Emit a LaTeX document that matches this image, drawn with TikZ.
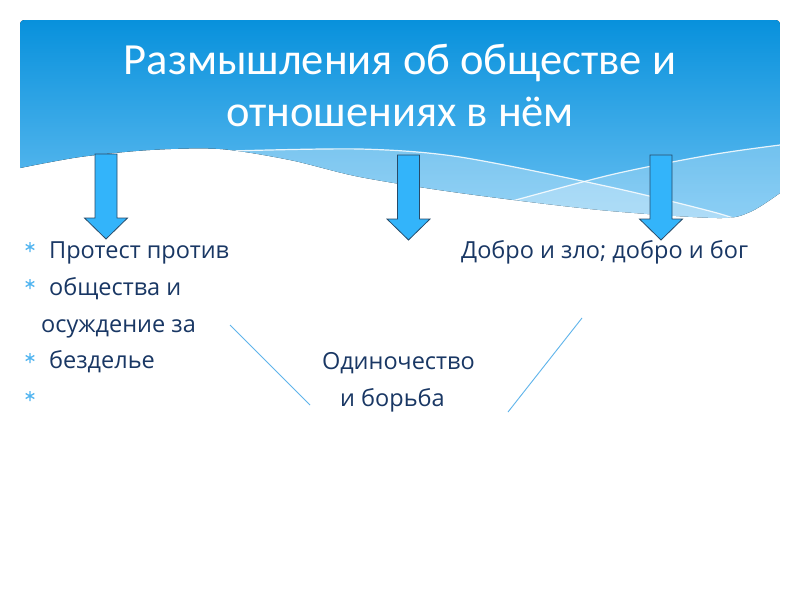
\documentclass[tikz,border=0pt]{standalone}
\usepackage{fontspec}
\setmainfont{Carlito}
\newfontfamily\bodyfont{Open Sans}
\definecolor{hdrtop}{RGB}{8,145,220}
\definecolor{hdrbot}{RGB}{105,192,242}
\definecolor{arrfill}{RGB}{51,180,250}
\definecolor{arrline}{RGB}{40,75,105}
\definecolor{bodytxt}{RGB}{25,55,100}
\definecolor{linblue}{RGB}{95,180,235}
\definecolor{bulblue}{RGB}{80,180,240}
\tikzset{
  titletext/.style={anchor=base, text=white, inner sep=0pt, font=\fontsize{44.5}{50}\selectfont},
  bodytext/.style={anchor=base west, text=bodytxt, inner sep=0pt, font=\bodyfont\fontsize{23.5}{27}\selectfont},
  arrowstyle/.style={fill=arrfill, draw=arrline, line width=0.8pt, line join=miter},
  downarr/.pic={\path[arrowstyle] (-11,0) -- (11,0) -- (11,64) -- (21.5,64) -- (0,85) -- (-21.5,64) -- (-11,64) -- cycle;},
  bulletstar/.pic={\draw[bulblue, line width=1.3pt] (0,-5) -- (0,5) (-4.3,-2.5) -- (4.3,2.5) (-4.3,2.5) -- (4.3,-2.5);},
  sepline/.style={draw=linblue, line width=0.9pt},
  whiteline/.style={draw=white, line width=1.2pt, opacity=0.85}
}
\begin{document}
\begin{tikzpicture}[x=1pt,y=-1pt]
\useasboundingbox[fill=white] (0,0) rectangle (800,600);
% header
\begin{scope}
  \clip[rounded corners=4pt] (20,20) rectangle (780,260);
  \clip plot[smooth] coordinates {(780,193) (750,212) (717,218) (600,210) (460,193) (360,177) (290,160) (220,149) (150,150) (80,157) (20,168)} -- (20,10) -- (790,10) -- cycle;
  \fill[top color=hdrtop, bottom color=hdrbot] (20,20) rectangle (780,225);
  \fill[white, opacity=0.3] plot[smooth] coordinates {(230,151) (360,149) (460,157) (610,187) (717,213) (760,228)} -- (760,260) -- (230,260) -- cycle;
  \fill[white, opacity=0.25] plot[smooth] coordinates {(470,212) (490,207) (610,175) (710,155) (780,145)} -- (780,260) -- (470,260) -- cycle;
  \path[whiteline] plot[smooth] coordinates {(230,151) (360,149) (460,157) (610,187) (717,213) (760,228)};
  \path[whiteline] plot[smooth] coordinates {(470,212) (490,207) (610,175) (710,155) (780,145)};
\end{scope}
\node[titletext] (t1) at (400,74) {Размышления об обществе и};
\node[titletext] (t2) at (400,126) {отношениях в нём};
% arrows
\pic (a1) at (106,154) {downarr};
\pic (a2) at (408.5,155) {downarr};
\pic (a3) at (661,155) {downarr};
% bullets
\pic (b1) at (30,247) {bulletstar};
\pic (b2) at (30,284) {bulletstar};
\pic (b4) at (30,358) {bulletstar};
\pic (b5) at (30,396) {bulletstar};
% texts
\node[bodytext] (l1) at (49,258) {Протест против};
\node[bodytext] (l2) at (49,295) {общества и};
\node[bodytext] (l3) at (41,332) {осуждение за};
\node[bodytext] (l4) at (49,368) {безделье};
\node[bodytext] (r1) at (461,258) {Добро и зло; добро и бог};
\node[bodytext] (m1) at (322,369) {Одиночество};
\node[bodytext] (m2) at (340,406) {и борьба};
% lines
\coordinate (s1a) at (230,325);
\coordinate (s1b) at (310,405);
\coordinate (s2a) at (582,318);
\coordinate (s2b) at (508,412);
\path[sepline] (s1a) -- (s1b);
\path[sepline] (s2a) -- (s2b);
\end{tikzpicture}
\end{document}
